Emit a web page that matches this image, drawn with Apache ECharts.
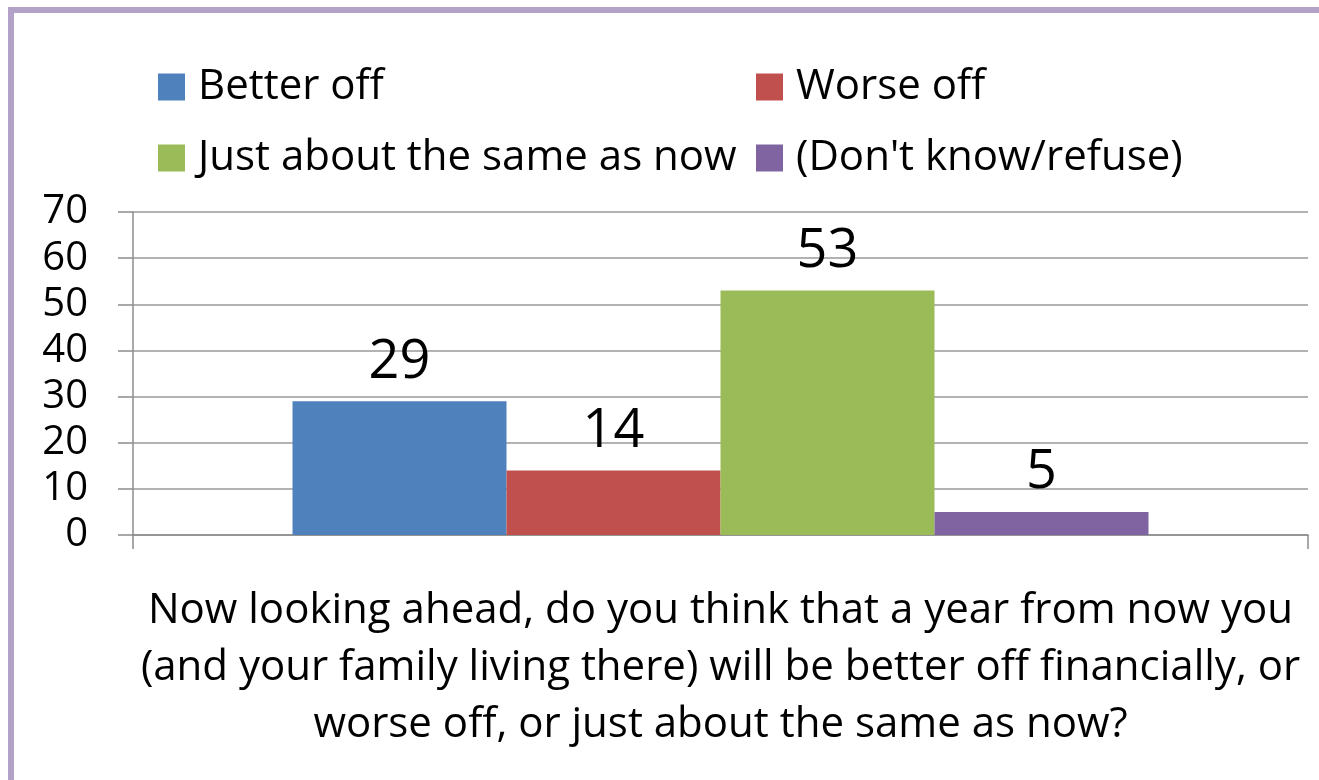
<!DOCTYPE html>
<html>
<head>
<meta charset="utf-8">
<script src="https://cdn.jsdelivr.net/npm/echarts@6/dist/echarts.min.js"></script>
<style>
  html, body { margin: 0; padding: 0; background: #fff; }
  #chart { width: 1319px; height: 780px; }
  /* purple frame on top and left edge */
  .frame {
    position: absolute; left: 8px; top: 7px; right: 0; bottom: 0;
    border-top: 6px solid #B3A2C7; border-left: 6px solid #B3A2C7;
    pointer-events: none;
  }
</style>
</head>
<body>
<div id="chart"></div>
<div class="frame"></div>
<script>
// 数据
const categories = ['Now looking ahead, do you think that a year from now you\n(and your family living there) will be better off financially, or\nworse off, or just about the same as now?'];
const seriesNames = ['Better off', 'Worse off', 'Just about the same as now', "(Don't know/refuse)"];
const seriesValues = [29, 14, 53, 5];
const seriesColors = ['#4F81BD', '#C0504D', '#9BBB59', '#8064A2'];
const yTicks = { min: 0, max: 70, interval: 10 };

const font = '"Open Sans", sans-serif';

const chart = echarts.init(document.getElementById('chart'));

const legendCommon = {
  orient: 'vertical',
  top: 66,
  padding: 0,
  icon: 'rect',
  itemWidth: 27,
  itemHeight: 27,
  itemGap: 29,
  textStyle: { fontFamily: font, fontSize: 42, color: '#000', padding: [0, 0, 0, 8], lineHeight: 42 }
};

const option = {
  animation: false,
  backgroundColor: '#fff',
  legend: [
    Object.assign({ left: 158, data: [seriesNames[0], seriesNames[2]] }, legendCommon),
    Object.assign({ left: 756, data: [seriesNames[1], seriesNames[3]] }, legendCommon)
  ],
  grid: { left: 133, right: 11, top: 212, bottom: 245, containLabel: false },
  xAxis: {
    type: 'category',
    data: categories,
    axisLine: { lineStyle: { color: '#8c8c8c', width: 1.5 } },
    axisTick: { show: true, length: 14, lineStyle: { color: '#8c8c8c', width: 1.5 } },
    axisLabel: {
      fontFamily: font, fontSize: 42, color: '#000', lineHeight: 57, margin: 48, align: 'center'
    }
  },
  yAxis: {
    type: 'value',
    min: yTicks.min, max: yTicks.max, interval: yTicks.interval,
    axisLine: { show: true, lineStyle: { color: '#8c8c8c', width: 1.5 } },
    axisTick: { show: true, length: 15, lineStyle: { color: '#8c8c8c', width: 1.5 } },
    splitLine: { lineStyle: { color: '#999', width: 1.5 } },
    axisLabel: { fontFamily: font, fontSize: 40, color: '#000', margin: 45 }
  },
  series: seriesNames.map((name, i) => ({
    name: name,
    type: 'bar',
    data: [seriesValues[i]],
    barWidth: 214,
    barGap: '0%',
    itemStyle: { color: seriesColors[i] },
    label: {
      show: true, position: 'top', distance: 12,
      fontFamily: font, fontSize: 54, color: '#000'
    }
  }))
};

chart.setOption(option);
window.addEventListener('resize', () => chart.resize());
</script>
</body>
</html>
